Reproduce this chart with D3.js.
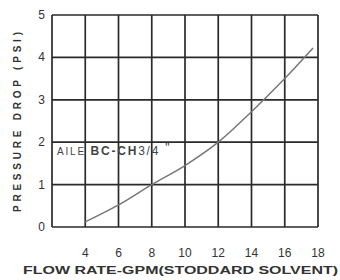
<!DOCTYPE html>
<html>
<head>
<meta charset="utf-8">
<script src="https://cdn.jsdelivr.net/npm/d3@7"></script>
<style>
  body { margin: 0; background: #fff; }
  svg { display: block; font-family: "Liberation Sans", Arial, sans-serif; }
</style>
</head>
<body>
<div id="chart"></div>
<script>
// flow rate (GPM) vs pressure drop (PSI)
var flowRate = [4, 6, 8, 10, 12, 14, 16, 17.7];
var pressureDrop = [0.12, 0.52, 1.0, 1.45, 2.0, 2.72, 3.5, 4.22];
var xTicks = [4, 6, 8, 10, 12, 14, 16, 18];
var yTicks = [0, 1, 2, 3, 4, 5];

var margin = { top: 15, right: 22, bottom: 53, left: 52 };
var width = 340 - margin.left - margin.right,
  height = 280 - margin.top - margin.bottom;

var svg = d3
  .select("#chart")
  .append("svg")
  .attr("width", 340)
  .attr("height", 280);

var g = svg
  .append("g")
  .attr("transform", "translate(" + margin.left + "," + margin.top + ")");

var x = d3.scaleLinear().domain([2, 18]).range([0, width]);
var y = d3.scaleLinear().domain([0, 5]).range([height, 0]);

// grid
var xGrid = d3.range(2, 19, 2);
g.selectAll(".vgrid")
  .data(xGrid)
  .enter()
  .append("line")
  .attr("class", "vgrid")
  .attr("x1", function(d) { return x(d); })
  .attr("x2", function(d) { return x(d); })
  .attr("y1", 0)
  .attr("y2", height)
  .attr("stroke", "#2a2a2a")
  .attr("stroke-width", 1.7);

g.selectAll(".hgrid")
  .data(yTicks)
  .enter()
  .append("line")
  .attr("class", "hgrid")
  .attr("x1", 0)
  .attr("x2", width)
  .attr("y1", function(d) { return y(d); })
  .attr("y2", function(d) { return y(d); })
  .attr("stroke", "#2a2a2a")
  .attr("stroke-width", 1.7);

// tick labels
g.selectAll(".xlab")
  .data(xTicks)
  .enter()
  .append("text")
  .attr("class", "xlab")
  .attr("x", function(d) { return x(d); })
  .attr("y", height + 30)
  .attr("text-anchor", "middle")
  .attr("font-size", 12)
  .attr("fill", "#333")
  .text(function(d) { return d; });

g.selectAll(".ylab")
  .data(yTicks)
  .enter()
  .append("text")
  .attr("class", "ylab")
  .attr("x", -7)
  .attr("y", function(d) { return y(d) + 4; })
  .attr("text-anchor", "end")
  .attr("font-size", 12)
  .attr("fill", "#333")
  .text(function(d) { return d; });

// curve
var pts = flowRate.map(function(f, i) { return [f, pressureDrop[i]]; });
var line = d3
  .line()
  .x(function(d) { return x(d[0]); })
  .y(function(d) { return y(d[1]); })
  .curve(d3.curveCatmullRom);

g.append("path")
  .datum(pts)
  .attr("d", line)
  .attr("fill", "none")
  .attr("stroke", "#777")
  .attr("stroke-width", 1.5);

// annotation
var ann = g
  .append("text")
  .attr("x", 5)
  .attr("y", y(2) + 13)
  .attr("font-size", 12)
  .attr("fill", "#444")
  .attr("letter-spacing", 1.8);
ann.append("tspan").attr("font-size", 10).text("AILE ");
ann.append("tspan").attr("font-weight", "bold").text("BC-CH");
ann.append("tspan").text("3/4 ");
ann.append("tspan").attr("dy", -3).text("\"");

// axis titles
svg
  .append("text")
  .attr("x", 23)
  .attr("y", 274)
  .attr("font-size", 11)
  .attr("font-weight", "bold")
  .attr("fill", "#333")
  .attr("textLength", 315)
  .attr("lengthAdjust", "spacingAndGlyphs")
  .text("FLOW RATE-GPM(STODDARD SOLVENT)");

svg
  .append("text")
  .attr("transform", "translate(21,212) rotate(-90)")
  .attr("font-size", 10)
  .attr("font-weight", "bold")
  .attr("fill", "#333")
  .attr("textLength", 180)
  .attr("lengthAdjust", "spacing")
  .text("PRESSURE DROP (PSI)");
</script>
</body>
</html>
